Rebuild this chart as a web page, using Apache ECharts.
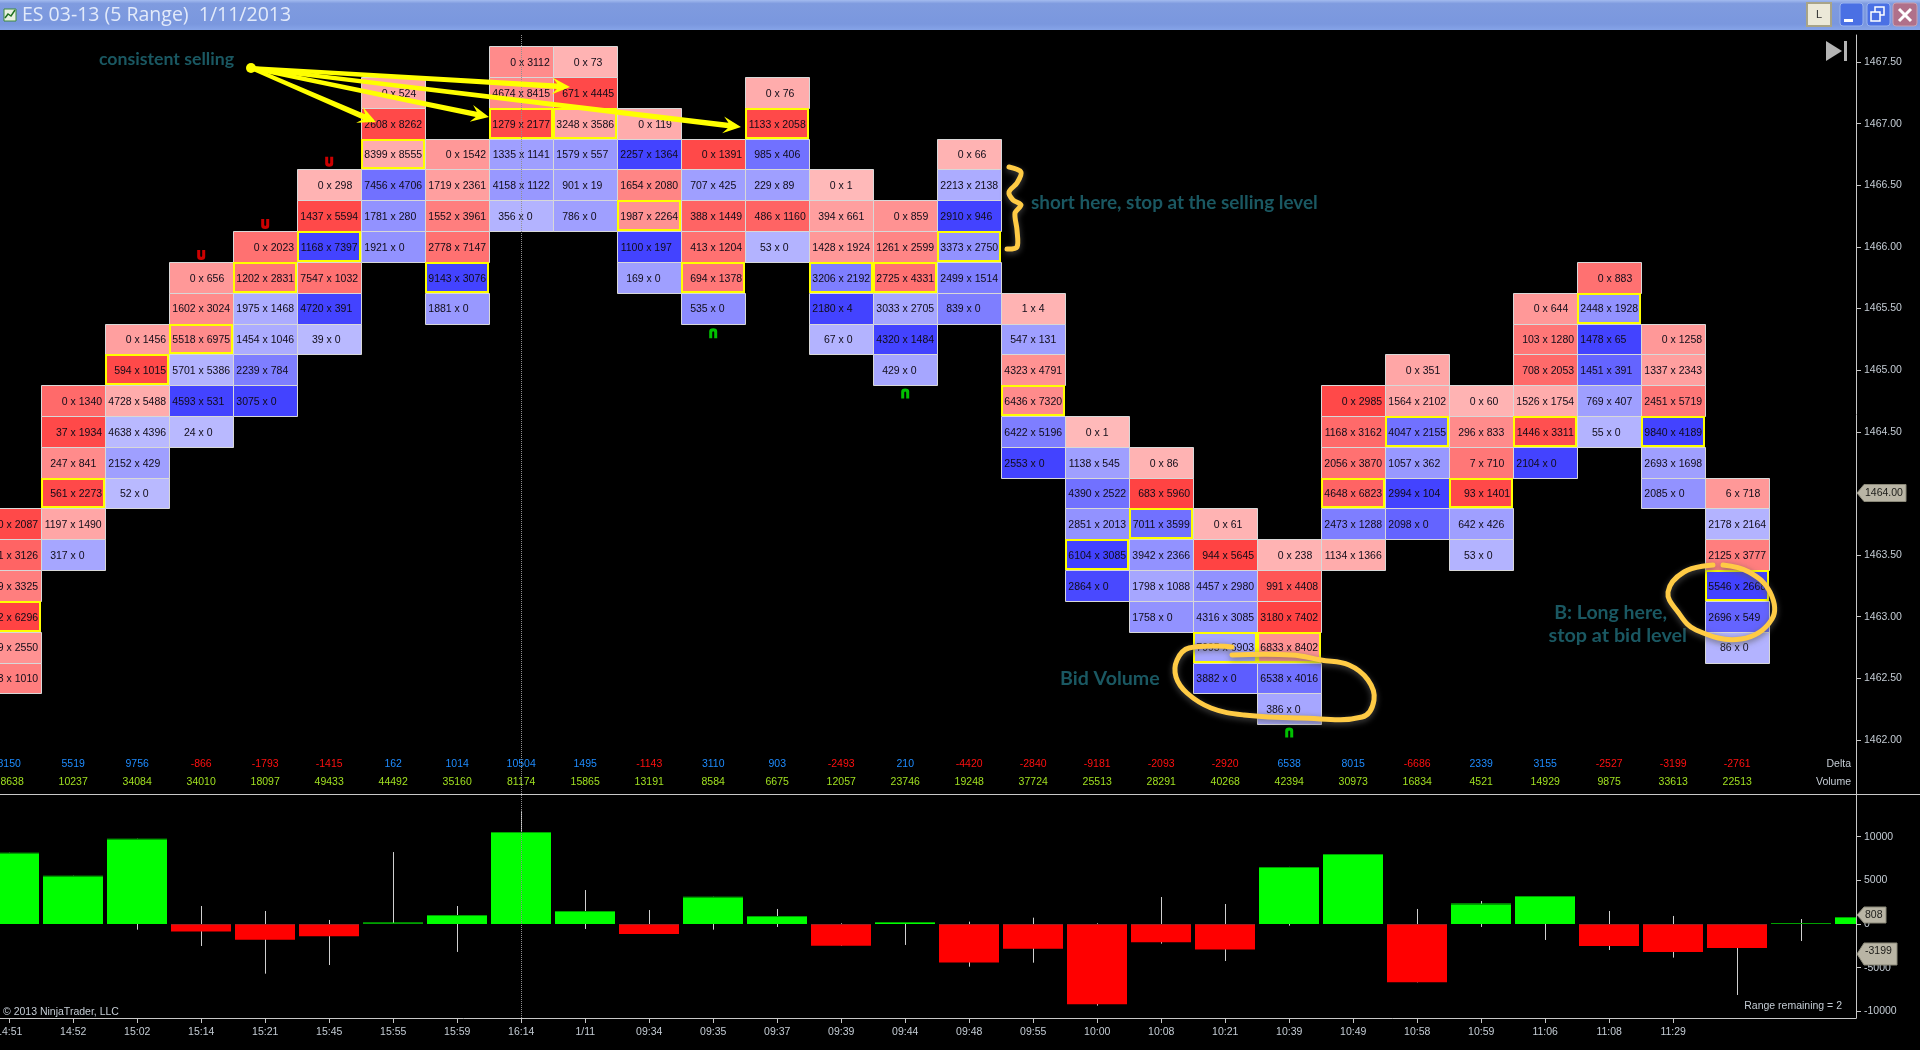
<!DOCTYPE html>
<html><head><meta charset="utf-8"><title>ES 03-13 (5 Range) 1/11/2013</title>
<style>html,body{margin:0;padding:0;background:#000;overflow:hidden}#c{width:1920px;height:1050px}</style>
<script src="https://cdn.jsdelivr.net/npm/echarts@6/dist/echarts.min.js"></script></head>
<body><div id="c"></div>
<script>
// ---- data ----
const times=['14:51','14:52','15:02','15:14','15:21','15:45','15:55','15:59','16:14','1/11','09:34','09:35','09:37','09:39','09:44','09:48','09:55','10:00','10:08','10:21','10:39','10:49','10:58','10:59','11:06','11:08','11:29'];
const deltaRow=[8150,5519,9756,-866,-1793,-1415,162,1014,10504,1495,-1143,3110,903,-2493,210,-4420,-2840,-9181,-2093,-2920,6538,8015,-6686,2339,3155,-2527,-3199,-2761];
const volumeRow=[28638,10237,34084,34010,18097,49433,44492,35160,81174,15865,13191,8584,6675,12057,23746,19248,37724,25513,28291,40268,42394,30973,16834,4521,14929,9875,33613,22513];
// lower panel: delta bars (two extra unfinished bars at the right) with wicks
const barClose=[8150,5519,9756,-866,-1793,-1415,162,1014,10504,1495,-1143,3110,903,-2493,210,-4420,-2840,-9181,-2093,-2920,6538,8015,-6686,2339,3155,-2527,-3199,-2761,100,808];
const barHigh=[8150,5519,9756,2060,1490,460,8240,2060,12980,3890,1600,3110,1720,80,210,270,725,80,3090,2290,6538,8015,1720,2630,3155,1490,920,0,570,808];
const barLow=[0,0,-650,-2520,-5690,-4700,0,-3200,0,-570,-1143,-650,-340,-2493,-2400,-4890,-4430,-9350,-2250,-4240,-190,0,-6686,-340,-1830,-2980,-3850,-8130,-1950,0];
// footprint columns: price of the top cell, then bid, ask, tone (+red/-blue, strength in %) from top to bottom
const cellTop=[1463.75,1464.75,1465.25,1465.75,1466,1466.5,1467.25,1466.75,1467.5,1467.5,1467,1466.75,1467.25,1466.5,1466.25,1466.75,1465.5,1464.5,1464.25,1463.75,1463.5,1464.75,1465,1464.75,1465.5,1465.75,1465.25,1464];
const bids=[[0,1431,2009,4012,1929,863],[0,37,247,561,1197,317],[0,594,4728,4638,2152,52],[0,1602,5518,5701,4593,24],[0,1202,1975,1454,2239,3075],[0,1437,1168,7547,4720,39],[0,2608,8399,7456,1781,1921],[0,1719,1552,2778,9143,1881],[0,4674,1279,1335,4158,356],[0,671,3248,1579,901,786],[0,2257,1654,1987,1100,169],[0,707,388,413,694,535],[0,1133,985,229,486,53],[0,394,1428,3206,2180,67],[0,1261,2725,3033,4320,429],[0,2213,2910,3373,2499,839],[1,547,4323,6436,6422,2553],[0,1138,4390,2851,6104,2864],[0,683,7011,3942,1798,1758],[0,944,4457,4316,7995,3882],[0,991,3180,6833,6538,386],[0,1168,2056,4648,2473,1134],[0,1564,4047,1057,2994,2098],[0,296,7,93,642,53],[0,103,708,1526,1446,2104],[0,2448,1478,1451,769,55],[0,1337,2451,9840,2693,2085],[6,2178,2125,5546,2696,86]];
const asks=[[2087,3126,3325,6296,2550,1010],[1340,1934,841,2273,1490,0],[1456,1015,5488,4396,429,0],[656,3024,6975,5386,531,0],[2023,2831,1468,1046,784,0],[298,5594,7397,1032,391,0],[524,8262,8555,4706,280,0],[1542,2361,3961,7147,3076,0],[3112,8415,2177,1141,1122,0],[73,4445,3586,557,19,0],[119,1364,2080,2264,197,0],[1391,425,1449,1204,1378,0],[76,2058,406,89,1160,0],[1,661,1924,2192,4,0],[859,2599,4331,2705,1484,0],[66,2138,946,2750,1514,0],[4,131,4791,7320,5196,0],[1,545,2522,2013,3085,0],[86,5960,3599,2366,1088,0],[61,5645,2980,3085,6903,0],[238,4408,7402,8402,4016,0],[2985,3162,3870,6823,1288,1366],[351,2102,2155,362,104,0],[60,833,710,1401,426,0],[644,1280,2053,1754,3311,0],[883,1928,65,391,407,0],[1258,2343,5719,4189,1698,0],[718,2164,3777,2668,549,0]];
const cellTone=[[90,70,50,95,35,50],[65,90,40,90,20,-20],[25,90,15,-5,-25,-5],[30,40,40,-10,-95,-5],[60,55,-15,-15,-50,-95],[10,90,-95,60,-95,-5],[20,90,15,-60,-35,-35],[30,25,50,60,-95,-30],[40,40,90,-25,-30,-10],[10,90,20,-30,-25,-25],[15,-95,45,35,-95,-25],[90,-25,70,60,55,-40],[15,90,-60,-25,70,-10],[5,25,30,-50,-95,-10],[35,45,60,-20,-95,-20],[10,-15,-95,-35,-50,-50],[10,-25,35,40,-50,-95],[5,-25,-60,-35,-95,-90],[10,95,-60,-35,-20,-35],[10,95,-35,-35,-20,-75],[10,80,95,35,-60,-20],[90,65,60,70,-50,15],[20,20,-60,-30,-95,-70],[10,40,55,90,-25,-10],[30,55,65,15,85,-95],[60,-35,-95,-70,-25,-10],[30,25,55,-95,-25,-35],[30,-10,50,-95,-70,-10]];
// row (from the top of each column) that has the yellow outline
const outlinedRow=[3,3,1,2,1,2,2,4,2,2,3,4,1,3,2,3,3,4,2,4,3,3,2,3,4,1,3,3];
const sellMarks=[[3,1465.934],[4,1466.186],[5,1466.69]];
const buyMarks=[[11,1465.30],[14,1464.81],[20,1462.06]];
const priceTicks=[1462,1462.5,1463,1463.5,1464,1464.5,1465,1465.5,1466,1466.5,1467,1467.5];
const deltaTicks=[-10000,-5000,0,5000,10000];
const hairlineIndex=8;

// ---- flat tables for the library ----
const cellRows=[];
cellTop.forEach((top,k)=>bids[k].forEach((b,i)=>cellRows.push([k,top-0.25*i,b,asks[k][i],cellTone[k][i],outlinedRow[k]===i?1:0])));
const statRows=deltaRow.map((d,k)=>[k,d,volumeRow[k]]);
const barRows=barClose.map((c,k)=>[k,c,barHigh[k],barLow[k]]);

const FONT='"Liberation Sans", Arial, sans-serif';
const AXIS='#c8c8c8', LABEL='#c4ccd4';
const DIGIT=5.84, CELLFONT='10.5px '+FONT;
const TEAL='#1a5862', MARK='#ffff00', HAND='#ffcb45';

function toneColor(t){
  const a=Math.abs(t)/100, c=Math.round(192-132*a);
  return t>=0?`rgb(255,${c},${c})`:`rgb(${c},${c},255)`;
}
function renderCell(p,api){
  const k=api.value(0),price=api.value(1),b=api.value(2),a=api.value(3),tone=api.value(4),out=api.value(5);
  const c=api.coord([k,price]),s=api.size([1,0.25]);
  const x0=Math.round(c[0]-s[0]/2),x1=Math.round(c[0]+s[0]/2),y0=Math.round(c[1]-s[1]/2-0.4),y1=Math.round(c[1]+s[1]/2-0.4);
  const nb=String(b).length,na=String(a).length;
  const inset=out?1:0.5;
  return {type:'group',children:[
    {type:'rect',z2:out?5:1,shape:{x:x0+inset,y:y0+inset,width:x1-x0-2*inset+(out?0:1),height:y1-y0-2*inset+(out?0:1)},
      style:{fill:toneColor(tone),stroke:out?'#ffff00':'#d8d8d8',lineWidth:out?2:1}},
    {type:'text',z2:out?6:2,style:{text:b+' x '+a,x:c[0]+(na-nb)*DIGIT/2,y:c[1]+1,align:'center',verticalAlign:'middle',font:CELLFONT,fill:'#100c18'}}
  ]};
}
function renderStat(p,api){
  const k=api.value(0),d=api.value(1),v=api.value(2);
  const y1=api.coord([k,1461.805]),y2=api.coord([k,1461.659]);
  return {type:'group',children:[
    {type:'text',style:{text:String(d),x:y1[0],y:y1[1],align:'center',verticalAlign:'middle',font:'10.5px '+FONT,fill:d<0?'#ff1010':'#1e8cff'}},
    {type:'text',style:{text:String(v),x:y2[0],y:y2[1],align:'center',verticalAlign:'middle',font:'10.5px '+FONT,fill:'#a0e020'}}
  ]};
}
function renderBar(p,api){
  const k=api.value(0),cl=api.value(1),hi=api.value(2),lo=api.value(3);
  const z=api.coord([k,0]),t=api.coord([k,cl]),h=api.coord([k,hi]),l=api.coord([k,lo]);
  const w=api.size([1,0])[0],x0=Math.round(z[0]-w/2+2),x1=Math.round(z[0]+w/2-2);
  const wx=Math.round(z[0])+0.5, top=Math.min(z[1],t[1]), bot=Math.max(z[1],t[1]);
  const up=cl>=0;
  return {type:'group',children:[
    {type:'line',shape:{x1:wx,y1:h[1],x2:wx,y2:l[1]},style:{stroke:'#d0d0d0',lineWidth:1}},
    {type:'rect',shape:{x:x0,y:top,width:x1-x0,height:bot-top},style:{fill:up?'#00ff00':'#ff0000'}},
    {type:'line',shape:{x1:x0,y1:Math.round(top)+0.5,x2:x1,y2:Math.round(top)+0.5},style:{stroke:up?'#00a000':'#a02020',lineWidth:1}}
  ]};
}

// ---- hand-drawn annotations ----
function arrow(from,to){
  const dx=to[0]-from[0],dy=to[1]-from[1],L=Math.hypot(dx,dy),ux=dx/L,uy=dy/L,nx=-uy,ny=ux;
  const at=(d,o)=>[from[0]+ux*d+nx*o,from[1]+uy*d+ny*o];
  return {type:'polygon',z:100,shape:{points:[at(0,-2),at(L-13,-2.8),at(L-18,-8.5),at(L,0),at(L-18,8.5),at(L-13,2.8),at(0,2)]},style:{fill:MARK}};
}
function stroke(points,w,smooth){
  return {type:'polyline',z:100,shape:{points,smooth:smooth},style:{stroke:HAND,lineWidth:w,fill:null,lineCap:'round',lineJoin:'round',shadowBlur:6,shadowColor:'rgba(90,90,90,.8)',shadowOffsetY:2}};
}
function note(text,x,y,size,align){
  return {type:'text',z:100,style:{text,x,y,align:align||'left',verticalAlign:'middle',font:'bold '+size+'px Lato, "Open Sans", sans-serif',fill:TEAL}};
}
function smallText(text,x,y,align,color){
  return {type:'text',z:100,style:{text,x,y,align,verticalAlign:'middle',font:'10.5px '+FONT,fill:color||LABEL}};
}
function tag(text,yc,x1,half,textY){
  return [
    {type:'polygon',z:100,shape:{points:[[1857,yc],[1864,yc-half],[x1,yc-half],[x1,yc+half],[1864,yc+half]]},style:{fill:'#b9b5a5',stroke:'#8a8878',lineWidth:1}},
    {type:'text',z:101,style:{text,x:1865,y:textY,align:'left',verticalAlign:'middle',font:'10.5px '+FONT,fill:'#20201c'}}
  ];
}
const graphics=[
  // title bar
  {type:'rect',z:90,shape:{x:0,y:0,width:1920,height:30},style:{fill:new echarts.graphic.LinearGradient(0,0,0,1,[{offset:0,color:'#a3bbef'},{offset:.12,color:'#7f9bdf'},{offset:.8,color:'#7a97de'},{offset:1,color:'#86a4e8'}])}},
  {type:'rect',z:91,shape:{x:4,y:9,width:12,height:12},style:{fill:'#e8f0e0',stroke:'#3c8a3c',lineWidth:1}},
  {type:'polyline',z:92,shape:{points:[[5,18],[8,14],[11,16],[15,10]]},style:{stroke:'#207020',lineWidth:1.5,fill:null}},
  {type:'text',z:91,style:{text:'ES 03-13 (5 Range)  1/11/2013',x:22,y:15,align:'left',verticalAlign:'middle',font:'19.5px "Open Sans", sans-serif',fill:'#e2eafa'}},
  {type:'rect',z:91,shape:{x:1807,y:3,width:24,height:23},style:{fill:'#ece9d8',stroke:'#a8a488',lineWidth:2}},
  {type:'text',z:92,style:{text:'L',x:1819,y:15,align:'center',verticalAlign:'middle',font:'11px '+FONT,fill:'#303030'}},
  {type:'rect',z:91,shape:{x:1840,y:3,width:23,height:23,r:3},style:{fill:'#4a70e4',stroke:'#9ab4ee',lineWidth:1}},
  {type:'rect',z:92,shape:{x:1844,y:19,width:9,height:3},style:{fill:'#ffffff'}},
  {type:'rect',z:91,shape:{x:1867,y:3,width:23,height:23,r:3},style:{fill:'#4a70e4',stroke:'#9ab4ee',lineWidth:1}},
  {type:'rect',z:92,shape:{x:1875,y:7,width:9,height:8},style:{fill:'none',stroke:'#ffffff',lineWidth:1.5}},
  {type:'rect',z:93,shape:{x:1871,y:12,width:9,height:9},style:{fill:'#4a70e4',stroke:'#ffffff',lineWidth:1.5}},
  {type:'rect',z:91,shape:{x:1893,y:3,width:24,height:23,r:3},style:{fill:'#b0708a',stroke:'#c8a0b0',lineWidth:1}},
  {type:'line',z:92,shape:{x1:1899,y1:9,x2:1911,y2:21},style:{stroke:'#fff',lineWidth:3}},
  {type:'line',z:92,shape:{x1:1911,y1:9,x2:1899,y2:21},style:{stroke:'#fff',lineWidth:3}},
  // panel separator and go-to-end control
  {type:'line',z:50,shape:{x1:0,y1:794.5,x2:1920,y2:794.5},style:{stroke:AXIS,lineWidth:1}},
  {type:'polygon',z:90,shape:{points:[[1826,41],[1842,51],[1826,61]]},style:{fill:'#b4b4b4'}},
  {type:'rect',z:90,shape:{x:1844,y:41,width:3,height:20},style:{fill:'#b4b4b4'}},
  // row captions
  smallText('Delta',1851,764,'right'),smallText('Volume',1851,782,'right'),
  smallText('\u00a9 2013 NinjaTrader, LLC',3,1012,'left'),smallText('Range remaining = 2',1842,1006,'right'),
  // value tags
  ...tag('1464.00',493,1906,8.5,493),...tag('808',915,1886,8,915),...tag('-3199',954,1897,11,951),
  // yellow arrows
  {type:'circle',z:100,shape:{cx:251,cy:68,r:5},style:{fill:MARK}},
  arrow([251,68],[376,122]),arrow([251,68],[489,117]),arrow([251,68],[570,87]),arrow([251,68],[741,127]),
  // notes
  note('consistent selling',99,59,17.7),
  note('short here, stop at the selling level',1031,203,18.9),
  note('Bid Volume',1060,679,19.6),
  note('B: Long here,',1667,613,19.5,'right'),
  note('stop at bid level',1687,636,19.8,'right'),
  // brace and loops
  stroke([[1009,167],[1021,172],[1017,183],[1009,192],[1013,200],[1021,205],[1015,213],[1017,230],[1017,247],[1007,249]],5,0.3),
  stroke([[1232,655],[1292,655],[1321,660],[1349,665],[1368,680],[1374,700],[1362,717],[1300,718],[1244,715],[1211,708],[1187,693],[1176,677],[1177,660],[1189,648],[1232,647]],5,0.4),
  stroke([[1713,565],[1684,572],[1668,592],[1678,612],[1696,630],[1741,639],[1772,619],[1770,592],[1749,572],[1723,565]],5,0.4)
];

const markPath='path://M0,0 L3,0 L3,6 Q4,8 5,6 L5,0 L8,0 L8,7 Q8,10 4,10 Q0,10 0,7 Z';
const X_MIN=-0.14375, X_MAX=28.856;
const option={
  animation:false,backgroundColor:'#000',
  graphic:{elements:graphics},
  grid:[
    {left:0,top:35,width:1856,height:759,outerBoundsMode:'none'},
    {left:0,top:794,width:1856,height:224,outerBoundsMode:'none'}
  ],
  xAxis:[
    {gridIndex:0,type:'value',min:X_MIN,max:X_MAX,show:false,splitLine:{show:false}},
    {gridIndex:1,type:'value',min:X_MIN,max:X_MAX,splitLine:{show:false},
      axisLine:{show:true,onZero:false,lineStyle:{color:AXIS}},
      axisTick:{show:true,length:5,lineStyle:{color:AXIS},customValues:times.map((t,i)=>i)},
      axisLabel:{color:LABEL,fontFamily:FONT,fontSize:10.5,margin:9,customValues:times.map((t,i)=>i),formatter:v=>times[v]||'',hideOverlap:false}}
  ],
  yAxis:[
    {gridIndex:0,type:'value',position:'right',min:1461.5616,max:1467.719,splitLine:{show:false},
      axisLine:{show:true,onZero:false,lineStyle:{color:AXIS}},
      axisTick:{show:true,length:5,lineStyle:{color:AXIS},customValues:priceTicks},
      axisLabel:{color:LABEL,fontFamily:FONT,fontSize:10.5,margin:8,padding:[2,0,0,0],customValues:priceTicks.filter(v=>v!==1464),formatter:v=>v.toFixed(2)}},
    {gridIndex:1,type:'value',position:'right',min:-10767,max:14890,splitLine:{show:false},
      axisLine:{show:true,onZero:false,lineStyle:{color:AXIS}},
      axisTick:{show:true,length:5,lineStyle:{color:AXIS},customValues:deltaTicks},
      axisLabel:{color:LABEL,fontFamily:FONT,fontSize:10.5,margin:8,customValues:deltaTicks,formatter:v=>String(v)}}
  ],
  series:[
    {type:'line',xAxisIndex:0,yAxisIndex:0,data:[],z:1,markLine:{silent:true,symbol:'none',label:{show:false},animation:false,lineStyle:{color:'#909090',type:'dotted',width:1},data:[{xAxis:hairlineIndex}]}},
    {type:'line',xAxisIndex:1,yAxisIndex:1,data:[],z:1,markLine:{silent:true,symbol:'none',label:{show:false},animation:false,lineStyle:{color:'#909090',type:'dotted',width:1},data:[{xAxis:hairlineIndex}]}},
    {type:'custom',name:'cells',xAxisIndex:0,yAxisIndex:0,z:3,clip:true,data:cellRows,renderItem:renderCell,silent:true},
    {type:'custom',name:'stats',xAxisIndex:0,yAxisIndex:0,z:3,clip:true,data:statRows,renderItem:renderStat,silent:true},
    {type:'custom',name:'delta bars',xAxisIndex:1,yAxisIndex:1,z:3,clip:true,data:barRows,renderItem:renderBar,silent:true},
    {type:'scatter',name:'sell marks',xAxisIndex:0,yAxisIndex:0,z:4,data:sellMarks,symbol:markPath,symbolSize:[8,10],itemStyle:{color:'#ff0000'},silent:true},
    {type:'scatter',name:'buy marks',xAxisIndex:0,yAxisIndex:0,z:4,data:buyMarks,symbol:markPath,symbolRotate:180,symbolSize:[8,10],itemStyle:{color:'#00f000'},silent:true}
  ]
};
echarts.init(document.getElementById('c'),null,{renderer:'canvas'}).setOption(option);
</script></body></html>
